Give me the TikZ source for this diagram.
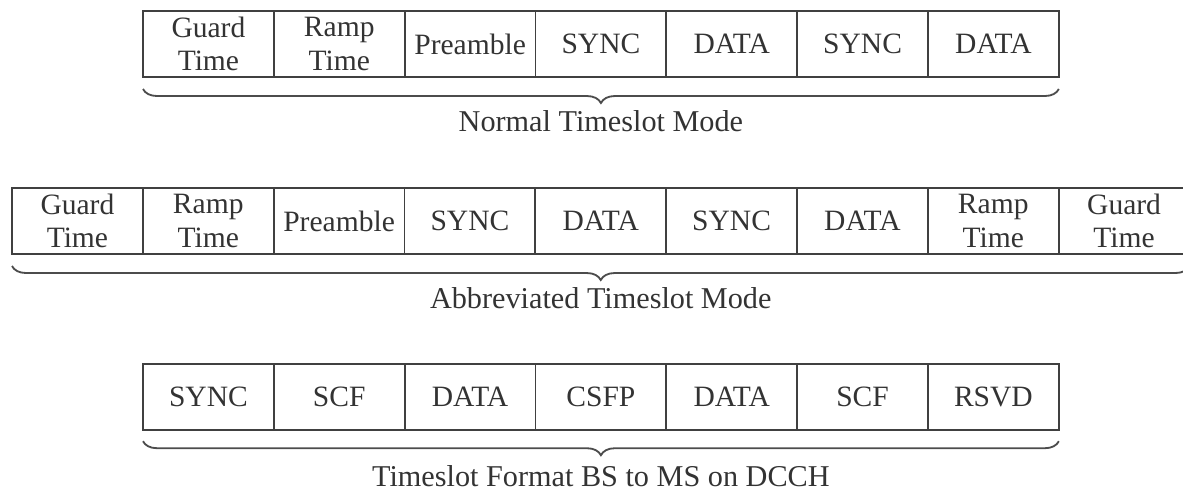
\documentclass[tikz,border=0pt]{standalone}
\usepackage{fontspec}
\setmainfont{Liberation Serif}
\usepackage{tikz}
\usetikzlibrary{positioning, decorations.pathreplacing}

\begin{document}
\begin{tikzpicture}[
    x=0.025cm, y=0.025cm,
    node distance=0pt,
    cell/.style={draw=black!75, line width=1.3pt, rectangle, outer sep=0pt, inner sep=0pt, minimum width=3.27cm, minimum height=1.65cm, align=center, text=black!80, font=\fontsize{21}{24}\selectfont},
    brace/.style={decorate, decoration={brace, mirror, amplitude=0.35cm}, draw=black!70, line width=1.3pt},
    caption/.style={text=black!80, font=\fontsize{21.5}{24}\selectfont}
]
    \useasboundingbox (0,0) rectangle (1183,493);

    % Normal timeslot
    \node[cell, anchor=north west] (n1) at (143,482) {Guard\\Time};
    \node[cell, right=of n1] (n2) {Ramp\\Time};
    \node[cell, right=of n2] (n3) {Preamble};
    \node[cell, right=of n3] (n4) {SYNC};
    \node[cell, right=of n4] (n5) {DATA};
    \node[cell, right=of n5] (n6) {SYNC};
    \node[cell, right=of n6] (n7) {DATA};

    % Abbreviated timeslot
    \node[cell, anchor=north west] (a1) at (12,305) {Guard\\Time};
    \node[cell, right=of a1] (a2) {Ramp\\Time};
    \node[cell, right=of a2] (a3) {Preamble};
    \node[cell, right=of a3] (a4) {SYNC};
    \node[cell, right=of a4] (a5) {DATA};
    \node[cell, right=of a5] (a6) {SYNC};
    \node[cell, right=of a6] (a7) {DATA};
    \node[cell, right=of a7] (a8) {Ramp\\Time};
    \node[cell, right=of a8] (a9) {Guard\\Time};

    % BS to MS on DCCH
    \node[cell, anchor=north west] (d1) at (143,129) {SYNC};
    \node[cell, right=of d1] (d2) {SCF};
    \node[cell, right=of d2] (d3) {DATA};
    \node[cell, right=of d3] (d4) {CSFP};
    \node[cell, right=of d4] (d5) {DATA};
    \node[cell, right=of d5] (d6) {SCF};
    \node[cell, right=of d6] (d7) {RSVD};

    % Braces with captions
    \draw[brace] ([yshift=-0.3cm]n1.south west) -- ([yshift=-0.3cm]n7.south east)
        node[caption, midway, yshift=-0.8cm] (normal) {Normal Timeslot Mode};
    \draw[brace] ([yshift=-0.3cm]a1.south west) -- ([yshift=-0.3cm]a9.south east)
        node[caption, midway, yshift=-0.8cm] (abbrev) {Abbreviated Timeslot Mode};
    \draw[brace] ([yshift=-0.28cm]d1.south west) -- ([yshift=-0.28cm]d7.south east)
        node[caption, midway, yshift=-0.87cm] (dcch) {Timeslot Format BS to MS on DCCH};

\end{tikzpicture}
\end{document}
